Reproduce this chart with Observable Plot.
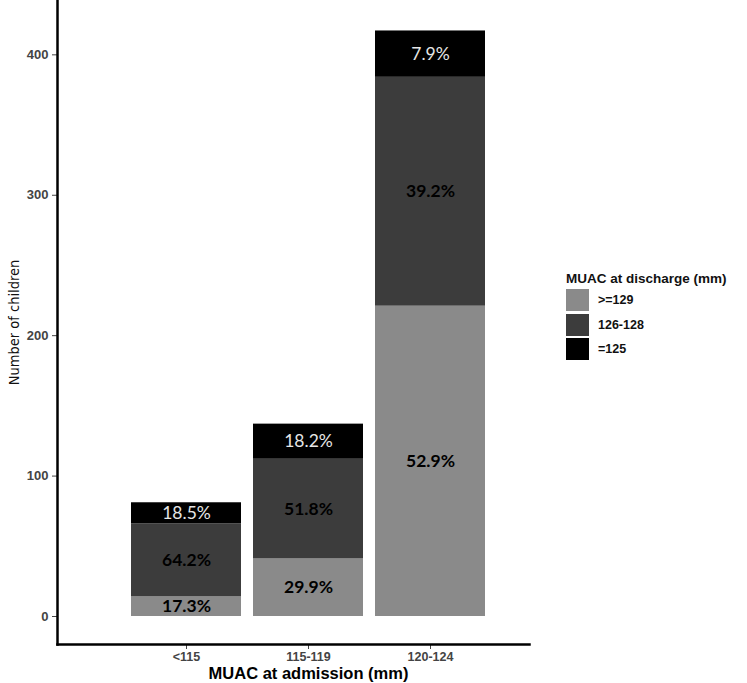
<!DOCTYPE html>
<html>
<head>
<meta charset="utf-8">
<script src="https://cdn.jsdelivr.net/npm/d3@7"></script>
<script src="https://cdn.jsdelivr.net/npm/@observablehq/plot@0.6"></script>
<style>
  html, body { margin: 0; padding: 0; background: #ffffff; }
  #wrap { position: relative; width: 747px; height: 683px; background: #ffffff; font-family: "Liberation Sans", Arial, sans-serif; }
  #legend { position: absolute; left: 566px; top: 271px; }
  #legend .title { font-weight: bold; font-size: 13.5px; color: #111; white-space: nowrap; margin-bottom: 2px; }
  #legend .row { display: flex; align-items: center; height: 24.5px; }
  #legend .sw { width: 23px; height: 22px; margin-right: 9px; }
  #legend .lab { font-weight: bold; font-size: 12.5px; color: #111; }
</style>
</head>
<body>
<div id="wrap"></div>
<script>
// ---- data ----
const categories = ["<115", "115-119", "120-124"];
const groups = [">=129", "126-128", "=125"];
const groupColors = ["#8a8a8a", "#3c3c3c", "#000000"];
const countsGE129 = [14, 41, 221];
const counts126to128 = [52, 71, 163];
const counts125 = [15, 25, 33];
const pctGE129 = ["17.3%", "29.9%", "52.9%"];
const pct126to128 = ["64.2%", "51.8%", "39.2%"];
const pct125 = ["18.5%", "18.2%", "7.9%"];
const yTicks = [0, 100, 200, 300, 400];
const xTitle = "MUAC at admission (mm)";
const yTitle = "Number of children";
const legendTitle = "MUAC at discharge (mm)";

const seriesCounts = [countsGE129, counts126to128, counts125];
const seriesPct = [pctGE129, pct126to128, pct125];
const rows = [];
categories.forEach((c, i) => {
  groups.forEach((g, j) => {
    rows.push({cat: c, group: g, n: seriesCounts[j][i], label: seriesPct[j][i]});
  });
});

const stackOpts = (extra) => Plot.stackY({x: "cat", y: "n", z: "group", ...extra});

const chart = Plot.plot({
  width: 747,
  height: 683,
  marginLeft: 57,
  marginRight: 218,
  marginTop: 0,
  marginBottom: 39,
  style: {fontFamily: "'Liberation Sans', Arial, sans-serif", background: "#ffffff", overflow: "visible"},
  x: {domain: categories, range: [124, 492], paddingInner: 0.1, paddingOuter: 0.05, label: null},
  y: {domain: [-19.94, 438.7], label: null},
  color: {domain: groups, range: groupColors},
  marks: [
    Plot.barY(rows, stackOpts({fill: "group", inset: 0})),
    Plot.text(rows, stackOpts({
      text: d => d.group === "=125" ? null : d.label,
      fill: "#000", fontWeight: "bold", fontSize: 17.5,
      fontFamily: "Lato, 'Open Sans', sans-serif"
    })),
    Plot.text(rows, stackOpts({
      text: d => d.group === "=125" ? d.label : null,
      fill: "#e6e6e6", fontWeight: "normal", fontSize: 17.5,
      fontFamily: "Lato, 'Open Sans', sans-serif"
    })),
    Plot.axisY({ticks: yTicks, tickSize: 5, tickPadding: 4, fontSize: 13, fontWeight: "bold", color: "#444", label: null, tickFormat: d => String(d)}),
    Plot.axisX({tickSize: 5, tickPadding: 3, fontSize: 12.5, fontWeight: "bold", color: "#444", label: null}),
    Plot.frame({anchor: "left", stroke: "#000", strokeWidth: 2.5}),
    Plot.frame({anchor: "bottom", stroke: "#000", strokeWidth: 2.5}),
    Plot.text([yTitle], {frameAnchor: "left", rotate: -90, dx: -43, textAnchor: "middle", lineAnchor: "middle",
      fontSize: 14.5, fill: "#111", fontWeight: 500,
      fontFamily: "'Liberation Sans Narrow', 'DejaVu Sans Condensed', sans-serif"}),
    Plot.text([xTitle], {frameAnchor: "bottom", dx: 15, dy: 29, lineAnchor: "middle", fontSize: 16.5, fontWeight: "bold", fill: "#000"})
  ]
});

const wrap = document.getElementById("wrap");
wrap.appendChild(chart);

const legend = document.createElement("div");
legend.id = "legend";
let html = `<div class="title">${legendTitle}</div>`;
groups.forEach((g, j) => {
  html += `<div class="row"><div class="sw" style="background:${groupColors[j]}"></div><div class="lab">${g.replace(/</g,"&lt;").replace(/>/g,"&gt;")}</div></div>`;
});
legend.innerHTML = html;
wrap.appendChild(legend);
</script>
</body>
</html>
